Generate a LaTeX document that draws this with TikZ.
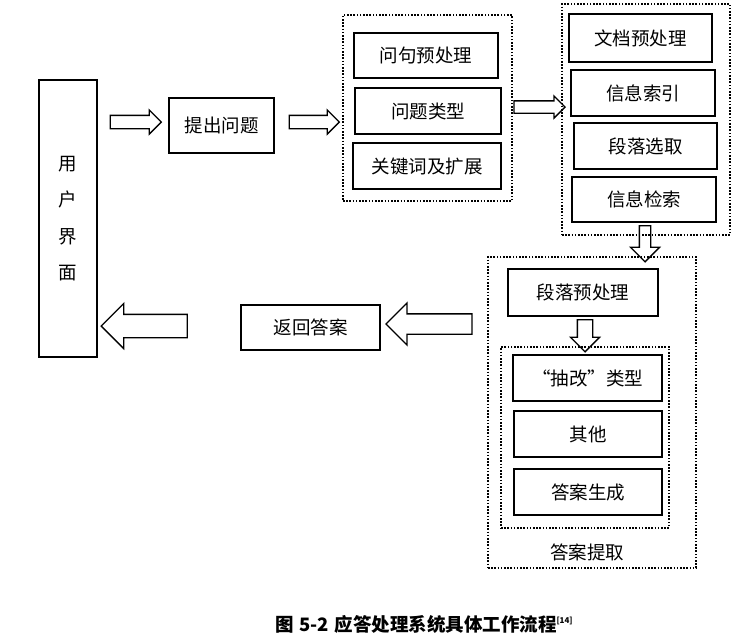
\documentclass[tikz,border=0pt]{standalone}
\usepackage{fontspec}
\setmainfont{Noto Sans CJK SC}
\usepackage{tikz}
\usetikzlibrary{shapes.arrows}
\tikzset{
    box/.style={draw, line width=1.6pt, inner sep=0pt, minimum width=146pt, minimum height=46pt},
    frame/.style={draw, line width=1.6pt, dash pattern=on 1.6pt off 1.6pt, inner sep=0pt},
    fatarrow/.style={single arrow, draw, line width=1.3pt, single arrow tip angle=90},
    every node/.style={font=\fontsize{18.5}{22}\selectfont}
}

\begin{document}
\begin{tikzpicture}[x=1pt, y=-1pt]
    \useasboundingbox (0,0) rectangle (745,641);
    % User side
    \node[box, minimum width=58pt, minimum height=277pt, align=center,
          font=\fontsize{18.5}{36.5}\selectfont] (ui) at (68,218.5) {用\\户\\界\\面};
    \node[box, minimum width=105pt, minimum height=55pt] (ask) at (221.5,125.5) {提出问题};
    \node[box, minimum width=139pt, minimum height=45pt] (back) at (310.5,327.5) {返回答案};
    % Question analysis
    \node[frame, minimum width=169pt, minimum height=186pt] (qframe) at (427.5,108) {};
    \node[box, minimum width=144pt, minimum height=45pt] (qproc) at (426,55.5) {问句预处理};
    \node[box] (qtype) at (428,111) {问题类型};
    \node[box, minimum width=148pt] (kw) at (427,166) {关键词及扩展};
    % Document retrieval
    \node[frame, minimum width=168pt, minimum height=231pt] (dframe) at (646,119.5) {};
    \node[box, minimum width=143pt, minimum height=48pt] (doc) at (640.5,38) {文档预处理};
    \node[box, minimum width=144pt] (idx) at (643,93) {信息索引};
    \node[box, minimum width=143pt] (para) at (645.5,146) {段落选取};
    \node[box, minimum width=144pt, minimum height=45pt] (ret) at (644,199.5) {信息检索};
    % Answer extraction
    \node[frame, minimum width=208pt, minimum height=311pt] (aframe) at (592,412.5) {};
    \node[box, minimum width=150pt, minimum height=47pt] (pprep) at (583,292.5) {段落预处理};
    \node[frame, minimum width=168pt, minimum height=181pt] (tframe) at (585,437.5) {};
    \node[box, minimum width=149pt] (ext) at (587.5,378) {“抽改”类型};
    \node[box, minimum width=148pt] (other) at (588,434) {其他};
    \node[box, minimum width=148pt] (gen) at (588,492) {答案生成};
    \node (alabel) at (587,552) {答案提取};
    % Block arrows
    \node[fatarrow, inner sep=6pt, single arrow head extend=5.5pt, minimum height=51pt] (a1) at (132.5,122) {};
    \node[fatarrow, inner sep=6pt, single arrow head extend=5.5pt, minimum height=50pt] (a2) at (311,122) {};
    \node[fatarrow, inner sep=5.5pt, single arrow head extend=5pt, minimum height=51pt] (a3) at (536.5,107) {};
    \node[fatarrow, rotate=-90, inner sep=5pt, single arrow head extend=9pt, minimum height=36pt] (a4) at (645,241) {};
    \node[fatarrow, rotate=-90, inner sep=7pt, single arrow head extend=7pt, minimum height=32pt] (a5) at (585,332) {};
    \node[fatarrow, rotate=180, inner sep=9.5pt, single arrow head extend=11pt, minimum height=86pt] (a6) at (434,324) {};
    \node[fatarrow, rotate=180, inner sep=11pt, single arrow head extend=11pt, minimum height=86pt] (a7) at (150,326) {};
    % Caption
    \node[font=\bfseries\fontsize{18.5}{22}\selectfont] (cap) at (424,624)
        {图\hspace{0.3em}5-2\hspace{0.3em}应答处理系统具体工作流程\raisebox{8pt}{\fontsize{8}{9}\selectfont[14]}};
\end{tikzpicture}
\end{document}
